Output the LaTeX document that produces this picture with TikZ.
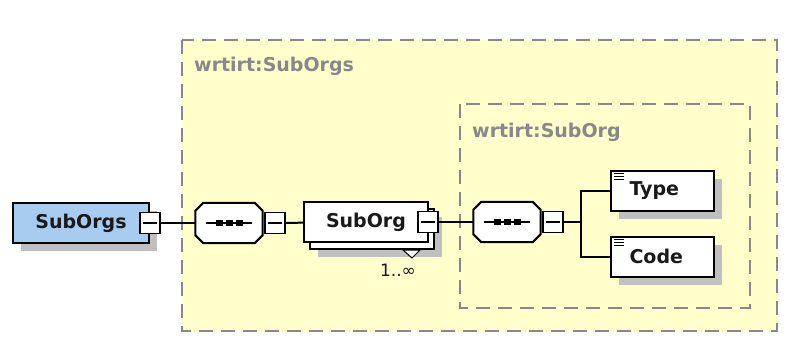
\documentclass[tikz,border=0pt]{standalone}
\usepackage{fontspec}
\setmainfont{DejaVu Sans}
\usetikzlibrary{positioning,shadows}

\definecolor{schemayellow}{RGB}{255,255,204}
\definecolor{schemablue}{RGB}{168,204,240}
\definecolor{shadowgray}{RGB}{192,192,192}
\definecolor{framegray}{RGB}{136,136,136}

\begin{document}
\begin{tikzpicture}[x=1pt,y=-1pt]

\tikzset{
  shade8/.style={drop shadow={shadow xshift=8pt,shadow yshift=-8pt,fill=shadowgray,opacity=1}},
  elem/.style={draw,line width=2pt,fill=white,minimum height=40pt,inner sep=0pt,
    font=\fontsize{19}{21}\selectfont\bfseries,text=black!90},
  leaf/.style={elem,text width=66pt,align=left,inner xsep=18pt,minimum width=103pt,
    path picture={
      \foreach \dy in {3,6,9}
        \draw[line width=1.1pt] ([xshift=3pt,yshift=-\dy pt]path picture bounding box.north west) -- ++(10pt,0);}},
  seqbox/.style={minimum width=67pt,minimum height=40pt,inner sep=0pt},
  seqshadow/.style={fill=shadowgray},
  seqface/.style={draw,line width=2pt,fill=white},
  minusbox/.style={draw,line width=1.8pt,fill=white,minimum width=20pt,minimum height=21pt,inner sep=0pt,
    path picture={
      \draw[line width=1.3pt] ([xshift=3pt]path picture bounding box.west) -- ([xshift=-3pt]path picture bounding box.east);}},
  frame/.style={draw=framegray,line width=1.9pt,dash pattern=on 14pt off 8pt},
  framelabel/.style={anchor=west,inner sep=0pt,text=framegray,font=\fontsize{19}{21}\selectfont\bfseries},
  wire/.style={line width=2pt}
}

\useasboundingbox (0,0) rectangle (803,359);

% complex types
\draw[frame,fill=schemayellow] (182,40) rectangle (777,331);
\node[framelabel] (lblorgs) at (194,66) {wrtirt:SubOrgs};
\draw[frame] (460,104) rectangle (750,308);
\node[framelabel] (lblorg) at (472,132) {wrtirt:SubOrg};

% root element
\node[elem,shade8,fill=schemablue,minimum width=136pt] (suborgs) at (81,223) {SubOrgs\hspace{6pt}};
\node[minusbox] (m1) at (suborgs.east) {};

% sequences
\node[seqbox] (seq1) at (229,223) {};
\node[seqbox] (seq2) at (507,222) {};
\foreach \s in {seq1,seq2} {
  \foreach \off/\how in {8/seqshadow,0/seqface} {
    \path[\how,shift={(\off pt,-\off pt)}]
      ([xshift=8pt]\s.north west) -- ([xshift=-8pt]\s.north east) -- ([yshift=-8pt]\s.north east)
      -- ([yshift=8pt]\s.south east) -- ([xshift=-8pt]\s.south east) -- ([xshift=8pt]\s.south west)
      -- ([yshift=8pt]\s.south west) -- ([yshift=-8pt]\s.north west) -- cycle;
  }
  \draw[line width=1.4pt] ([xshift=-23pt]\s.center) -- ([xshift=23pt]\s.center);
  \foreach \dx in {-10,0,10}
    \fill ([xshift=\dx pt]\s.center) +(-3.5pt,-3pt) rectangle +(3.5pt,3pt);
}
\node[minusbox,right=1pt of seq1] (m2) {};
\node[minusbox,right=1pt of seq2] (m4) {};

% repeated element
\node[elem,shade8,minimum width=124pt] (suborgback) at (372,229) {};
\node[elem,minimum width=124pt] (suborg) at (366,222) {SubOrg\hspace{4pt}};
\node[minusbox] (m3) at ([xshift=-1pt]suborg.east) {};
\draw[line width=1pt,fill=white] ([xshift=-32pt]suborgback.south east) -- ([xshift=-15pt]suborgback.south east)
  -- ([xshift=-23pt,yshift=-8pt]suborgback.south east) -- cycle;
\node[font=\fontsize{17}{19}\selectfont,text=black!90] (card) at (398,270) {1..∞};

% leaves
\node[leaf,shade8] (type) at (662.5,190.5) {Type};
\node[leaf,shade8] (code) at (662.5,256.5) {Code};

% connectors
\draw[wire] (m1) -- (seq1);
\draw[wire] (m2) -- (suborg);
\draw[wire] (m3) -- (seq2);
\coordinate (fork) at (581,222);
\draw[wire] (m4) -- (fork);
\draw[wire] (type.west) -| (fork) |- (code.west);

\end{tikzpicture}
\end{document}
